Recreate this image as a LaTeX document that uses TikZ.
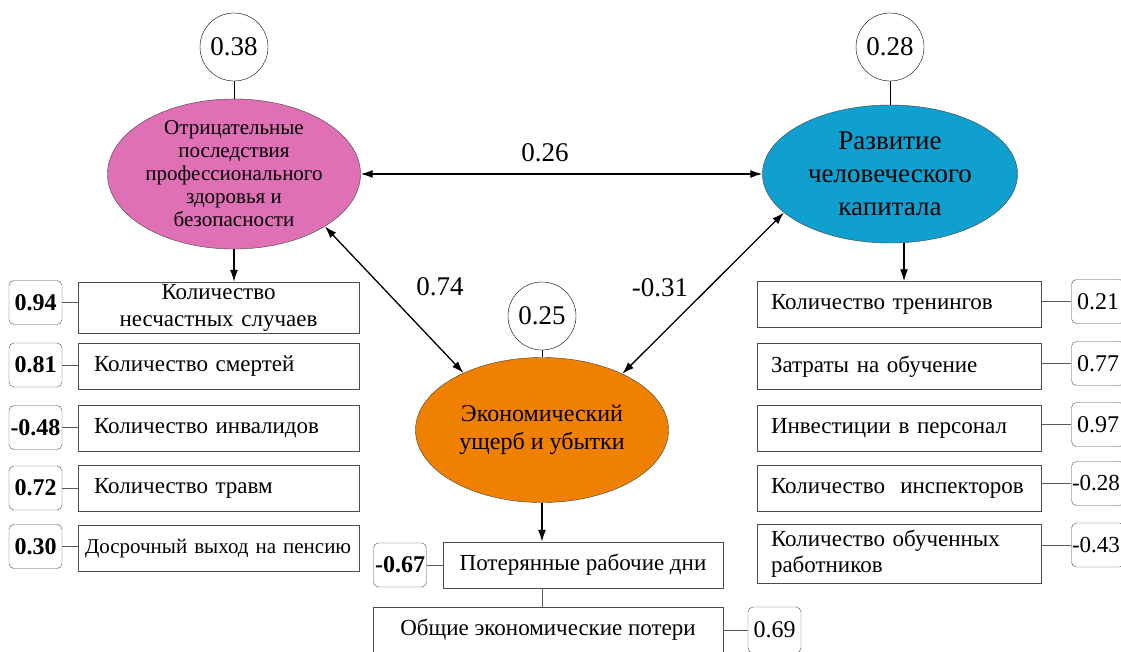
\documentclass[tikz,border=0pt]{standalone}
\usepackage{fontspec}
\setmainfont{Liberation Serif}
\usetikzlibrary{arrows.meta,shapes.geometric}
\definecolor{pinkfill}{RGB}{224,112,182}
\definecolor{bluefill}{RGB}{16,160,208}
\definecolor{orangefill}{RGB}{240,128,0}

\begin{document}
\begin{tikzpicture}[x=1pt,y=-1pt,
    latent/.style={ellipse,draw=black!75,inner sep=0pt,align=center},
    resid/.style={circle,draw,fill=white,inner sep=0pt,minimum size=68pt,font=\fontsize{27}{27}\selectfont},
    item/.style={rectangle,draw=black!70,minimum height=46pt,inner xsep=16pt,inner ysep=0pt,align=left,font=\fontsize{23}{27}\selectfont},
    load/.style={rectangle,rounded corners=5pt,draw=black!70,minimum width=53pt,minimum height=44pt,inner sep=0pt,font=\fontsize{24}{24}\selectfont},
    coef/.style={font=\fontsize{27}{27}\selectfont},
    cov/.style={{Latex[length=12pt,width=8pt]}-{Latex[length=12pt,width=8pt]},line width=1.3pt},
    effect/.style={-{Latex[length=12pt,width=8pt]},line width=1.3pt},
    tie/.style={draw=black!65,line width=1pt}]

    \useasboundingbox (0,0) rectangle (1121,651);

    \node[latent,fill=pinkfill,minimum width=253pt,minimum height=140pt,
        font=\fontsize{21}{23}\selectfont] (ohs) at (234,174)
        {Отрицательные\\последствия\\профессионального\\здоровья и\\безопасности};
    \node[latent,fill=bluefill,minimum width=255pt,minimum height=138pt,
        font=\fontsize{27}{33}\selectfont] (hcd) at (890,174)
        {Развитие\\человеческого\\капитала};
    \node[latent,fill=orangefill,minimum width=253pt,minimum height=145pt,
        font=\fontsize{24}{28}\selectfont] (econ) at (542,430)
        {Экономический\\ущерб и убытки};

    \node[resid] (r1) at (234,47) {0.38};
    \node[resid] (r2) at (890,47) {0.28};
    \node[resid] (r3) at (542,316) {0.25};
    \draw (r1) -- (ohs);
    \draw (r2) -- (hcd);
    \draw (r3) -- (econ);

    \draw[cov] (ohs.east) -- (hcd.west);
    \draw[cov] (ohs.-30) -- (econ.144);
    \draw[cov] (hcd.-160) -- (econ.35);
    \node[coef] (c26) at (545,153) {0.26};
    \node[coef] (c74) at (440,287) {0.74};
    \node[coef] (c31) at (660,288) {-0.31};

    % left block
    \node[item,text width=249pt,align=center,minimum height=51pt] (li1) at (218.5,307.5) {Количество\\несчастных случаев};
    \node[item,text width=249pt] (li2) at (218.5,366.5) {Количество смертей};
    \node[item,text width=249pt] (li3) at (218.5,428.5) {Количество инвалидов};
    \node[item,text width=249pt] (li4) at (218.5,488.5) {Количество травм};
    \node[item,text width=267pt,inner xsep=7pt,font=\fontsize{21}{25}\selectfont] (li5) at (218.5,548.5) {Досрочный выход на пенсию};
    \node[load,font=\bfseries\fontsize{24}{24}\selectfont] (lv1) at (35.5,302.5) {0.94};
    \node[load,font=\bfseries\fontsize{24}{24}\selectfont] (lv2) at (35.5,365) {0.81};
    \node[load,font=\bfseries\fontsize{24}{24}\selectfont] (lv3) at (35.5,427.5) {-0.48};
    \node[load,font=\bfseries\fontsize{24}{24}\selectfont] (lv4) at (35.5,488) {0.72};
    \node[load,font=\bfseries\fontsize{24}{24}\selectfont] (lv5) at (35.5,546.5) {0.30};
    \foreach \k in {1,...,5}
        \draw[tie] (lv\k.east) -- (lv\k.east -| li\k.west);
    \draw[effect] (ohs.south) -- (ohs.south |- li1.north);

    % right block
    \node[item,text width=256pt,inner xsep=14pt] (ri1) at (899,304.5) {Количество тренингов};
    \node[item,text width=256pt,inner xsep=14pt] (ri2) at (899,366.5) {Затраты на обучение};
    \node[item,text width=256pt,inner xsep=14pt] (ri3) at (899,428) {Инвестиции в персонал};
    \node[item,text width=256pt,inner xsep=14pt] (ri4) at (899,488.5) {Количество\ \ инспекторов};
    \node[item,text width=256pt,inner xsep=14pt,minimum height=59pt,font=\fontsize{23}{26}\selectfont] (ri5) at (899,553.5) {Количество обученных\\работников};
    \node[load] (rv1) at (1098,301.5) {0.21};
    \node[load] (rv2) at (1098,363.5) {0.77};
    \node[load] (rv3) at (1098,424.5) {0.97};
    \node[load,font=\fontsize{23}{23}\selectfont] (rv4) at (1098,483.5) {\hspace*{-4pt}-0.28};
    \node[load,font=\fontsize{23}{23}\selectfont] (rv5) at (1098,545) {\hspace*{-4pt}-0.43};
    \foreach \k in {1,...,5}
        \draw[tie] (rv\k.west -| ri\k.east) -- (rv\k.west);
    \draw[effect] (hcd.south -| 904,0) -- (ri1.north -| 904,0);

    % bottom block
    \node[item,minimum width=280pt,align=center] (bi1) at (583,565) {Потерянные рабочие дни};
    \node[item,minimum width=350pt,align=center] (bi2) at (548,630) {Общие экономические потери};
    \node[load,font=\bfseries\fontsize{24}{24}\selectfont] (bv1) at (400,565) {-0.67};
    \node[load,minimum height=46pt] (bv2) at (774.5,630) {0.69};
    \draw[tie] (bv1.east) -- (bi1.west);
    \draw[tie] (bi2.east) -- (bv2.west);
    \draw[tie] (econ.south |- bi1.south) -- (econ.south |- bi2.north);
    \draw[effect] (econ.south) -- (econ.south |- bi1.north);
\end{tikzpicture}
\end{document}
